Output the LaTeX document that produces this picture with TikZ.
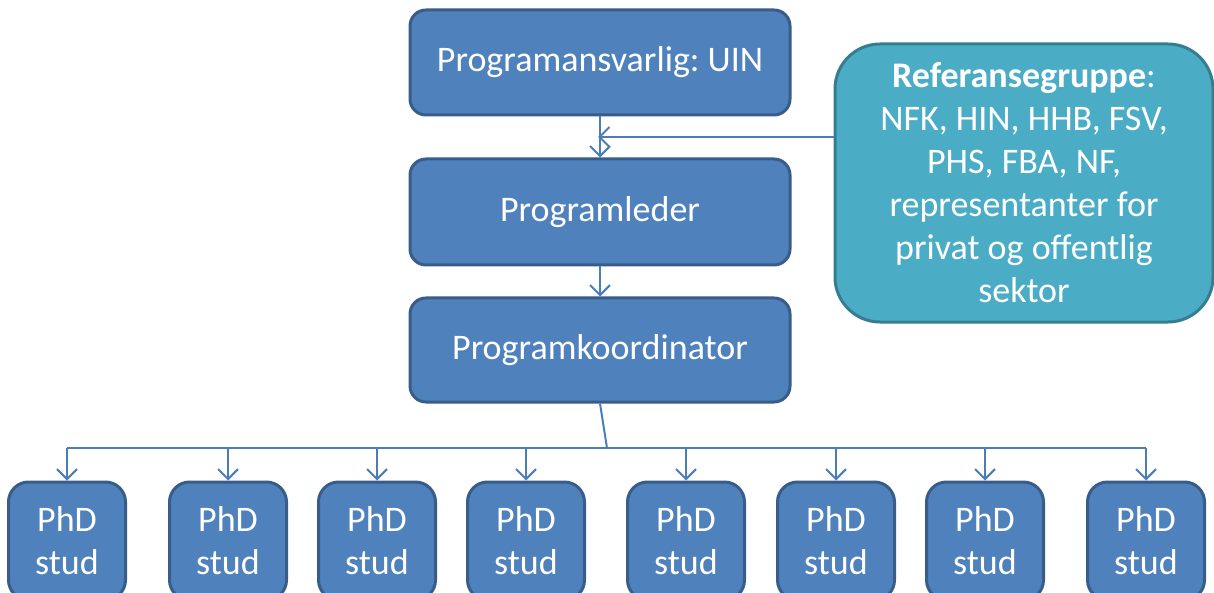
\documentclass[tikz,border=0pt]{standalone}
\usepackage{fontspec}
\setmainfont{Carlito}
\usetikzlibrary{arrows.meta}
\definecolor{boxblue}{HTML}{4F81BD}
\definecolor{boxedge}{HTML}{385D8A}
\definecolor{reffill}{HTML}{4BACC6}
\definecolor{refedge}{HTML}{357D91}
\definecolor{linkcol}{HTML}{4A7EBB}
\frenchspacing
\tikzset{
  bluebox/.style={draw=boxedge, fill=boxblue, line width=3pt, rounded corners=16pt,
    text=white, font=\fontsize{36}{43}\selectfont\frenchspacing, align=center, inner sep=0pt},
  phdbox/.style={bluebox, rounded corners=20pt, minimum width=117pt, minimum height=118pt},
  mainbox/.style={bluebox, minimum width=380pt, minimum height=105pt},
  refbox/.style={draw=refedge, fill=reffill, line width=3pt, rounded corners=45pt,
    text=white, font=\fontsize{36}{43}\selectfont\frenchspacing, align=center, inner sep=0pt,
    minimum width=378pt, minimum height=278pt},
  link/.style={draw=linkcol, line width=2pt},
  arr/.style={link, -{Straight Barb[length=10pt,width=20pt,line width=2pt]}}
}
\begin{document}
\begin{tikzpicture}[x=1pt,y=-1pt]
\useasboundingbox (0,0) rectangle (1214,593);
\clip (0,0) rectangle (1214,593);
\fill[white] (0,0) rectangle (1214,593);
\node[mainbox] (top) at (600,62.5) {Programansvarlig: UIN};
\node[mainbox, minimum height=106pt] (leader) at (600,212) {Programleder};
\node[mainbox, minimum height=104pt] (koord) at (600,350) {Programkoordinator};
\node[refbox] (ref) at (1024,183) {\textbf{Referansegruppe}:\\NFK, HIN, HHB, FSV,\\PHS, FBA, NF,\\representanter for\\privat og offentlig\\sektor};
\foreach \i/\x in {1/67,2/228,3/377,4/526,5/686,6/836,7/985,8/1146}{
  \node[phdbox] (phd\i) at (\x,541) {PhD\\stud};
}
\coordinate (refin) at (598,137);
\coordinate (bus) at (607,448);
\draw[arr] (top.south) -- (leader.north);
\draw[arr] (ref.west |- refin) -- (refin);
\draw[arr] (leader.south) -- (koord.north);
\draw[link] (koord.south) -- (bus);
\draw[link] (phd1.north |- bus) -- (phd8.north |- bus);
\foreach \i in {1,...,8}{
  \draw[arr] (phd\i.north |- bus) -- (phd\i.north);
}
\end{tikzpicture}
\end{document}
